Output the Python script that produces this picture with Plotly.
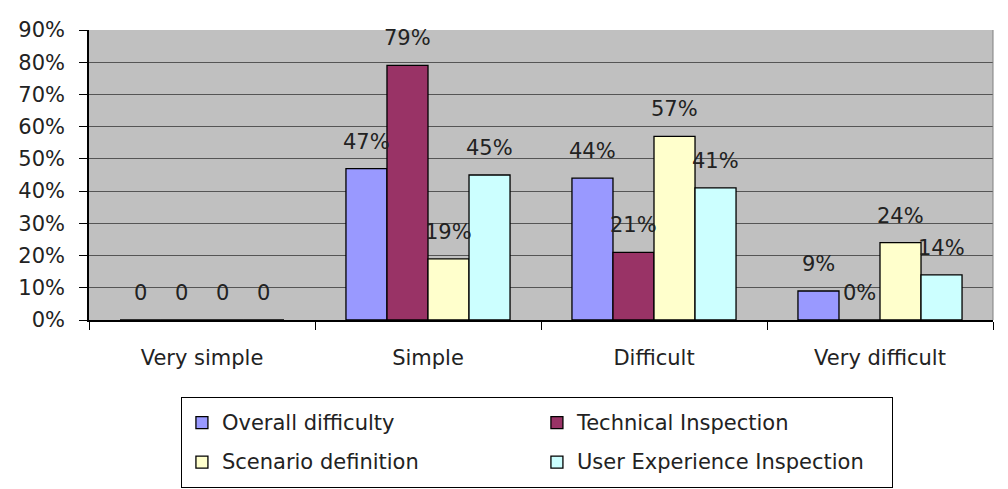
import plotly.graph_objects as go

categories = ["Very simple", "Simple", "Difficult", "Very difficult"]
series_names = ["Overall difficulty", "Technical Inspection", "Scenario definition", "User Experience Inspection"]
overall = [0, 0.47, 0.44, 0.09]
technical = [0, 0.79, 0.21, 0.0]
scenario = [0, 0.19, 0.57, 0.24]
ux = [0, 0.45, 0.41, 0.14]
colors = ["#9999FF", "#993366", "#FFFFCC", "#CCFFFF"]
y_ticks = [0, 0.1, 0.2, 0.3, 0.4, 0.5, 0.6, 0.7, 0.8, 0.9]

FONT = "DejaVu Sans"
FS = 21
series = [overall, technical, scenario, ux]
bargap = 0.274
n = len(series)
bw = (1 - bargap) / n


def label(ci, v):
    return "0" if ci == 0 else f"{v:.0%}"


fig = go.Figure()
for name, vals, col in zip(series_names, series, colors):
    fig.add_trace(go.Bar(
        x=categories, y=vals,
        name=f'<span style="font-size:{FS}px;baseline-shift:4px">{name}</span>',
        marker=dict(color=col, line=dict(color="black", width=1.3)),
    ))

annotations = []
for si, vals in enumerate(series):
    off = -(1 - bargap) / 2 + bw * (si + 0.5)
    for ci, v in enumerate(vals):
        annotations.append(dict(
            x=ci + off, y=v, xref="x", yref="y", text=label(ci, v),
            showarrow=False, yanchor="middle", xanchor="center", yshift=27,
            font=dict(family=FONT, size=FS, color="#222"),
        ))

fig.update_layout(
    width=1008, height=489,
    margin=dict(l=89, r=15, t=30, b=169, autoexpand=False),
    paper_bgcolor="white", plot_bgcolor="#C0C0C0",
    barmode="group", bargap=bargap, bargroupgap=0,
    font=dict(family=FONT, size=FS, color="#222"),
    annotations=annotations,
    showlegend=True,
    legend=dict(
        orientation="h", x=0.4955, xanchor="center", y=-0.2655, yanchor="top",
        bordercolor="black", borderwidth=1, bgcolor="white",
        entrywidth=310, entrywidthmode="pixels",
        font=dict(family=FONT, size=28, color="#222"),
        traceorder="normal",
    ),
    shapes=[dict(type="line", xref="paper", yref="paper", x0=1, x1=1, y0=0, y1=1,
                 line=dict(color="#808080", width=1))],
)
fig.update_xaxes(
    type="category", showline=True, linecolor="black", linewidth=1.5,
    ticks="outside", tickson="boundaries", ticklen=8, tickcolor="black",
    showgrid=False, ticklabelstandoff=18,
)
fig.update_yaxes(
    range=[0, 0.9], tickvals=y_ticks, tickformat=".0%",
    showline=True, linecolor="black", linewidth=1.5,
    ticks="outside", ticklen=8, tickcolor="black",
    showgrid=True, gridcolor="#555555", gridwidth=1,
    zeroline=False, ticklabelstandoff=10,
)
fig.write_html("out.html")
